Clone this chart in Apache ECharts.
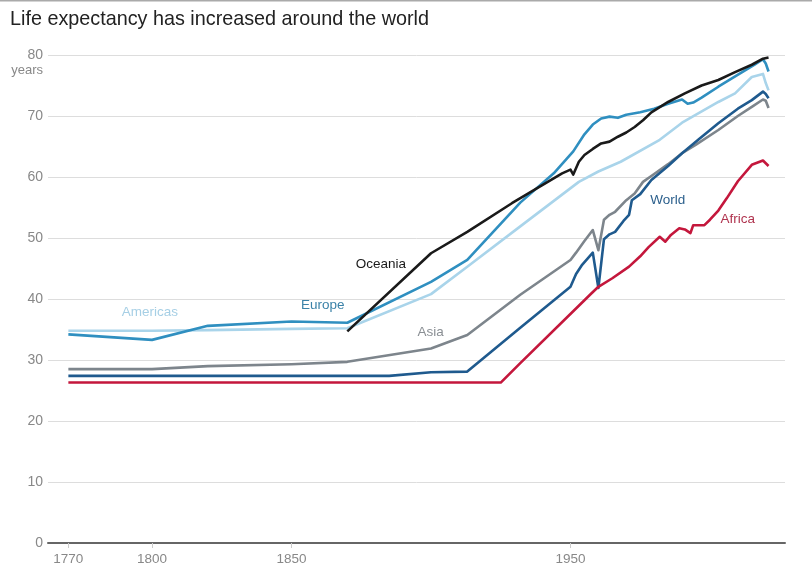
<!DOCTYPE html>
<html>
<head>
<meta charset="utf-8">
<script src="https://cdn.jsdelivr.net/npm/echarts@6/dist/echarts.min.js"></script>
<style>html,body{margin:0;padding:0;background:#fff;}#c{width:812px;height:576px;}</style>
</head>
<body>
<div id="c"></div>
<script>
// ---- data (year, life expectancy in years) ----
const americas = [[1770,34.8],[1800,34.8],[1820,34.9],[1850,35.1],[1870,35.2],[1900,40.8],[1913,45.3],[1932,51.9],[1953,59.2],[1960,60.9],[1968,62.5],[1982,66.1],[1990,68.9],[2003,72.3],[2009,73.7],[2015,76.4],[2019,76.9],[2020,75.4],[2021,74.2]];
const europe = [[1770,34.2],[1800,33.3],[1820,35.6],[1850,36.3],[1870,36.1],[1900,42.8],[1913,46.4],[1932,55.8],[1944,60.6],[1951,64.2],[1955,67.0],[1958,68.6],[1961,69.6],[1964,69.9],[1967,69.7],[1970,70.2],[1975,70.6],[1980,71.2],[1985,72.0],[1990,72.7],[1992,72.0],[1994,72.2],[1997,73.0],[2003,74.8],[2008,76.2],[2012,77.3],[2016,78.4],[2019,79.3],[2020,78.6],[2021,77.3]];
const oceania = [[1870,34.7],[1900,47.5],[1913,51.0],[1929,55.7],[1947,60.6],[1950,61.2],[1951,60.4],[1953,62.5],[1955,63.6],[1958,64.6],[1961,65.5],[1964,65.8],[1967,66.6],[1970,67.3],[1973,68.2],[1976,69.3],[1979,70.6],[1985,72.3],[1991,73.7],[1997,75.0],[2003,75.9],[2009,77.2],[2015,78.4],[2019,79.4],[2021,79.6]];
const asia = [[1770,28.5],[1800,28.5],[1820,29.0],[1850,29.3],[1870,29.7],[1900,31.9],[1913,34.1],[1932,40.7],[1950,46.4],[1952,47.6],[1955,49.5],[1958,51.3],[1960,48.0],[1962,53.0],[1964,53.8],[1966,54.3],[1970,56.2],[1973,57.3],[1976,59.2],[1980,60.5],[1985,62.1],[1990,63.9],[1995,65.3],[2003,67.7],[2010,70.0],[2015,71.5],[2019,72.7],[2020,72.5],[2021,71.3]];
const world = [[1770,27.4],[1885,27.4],[1900,28.0],[1913,28.1],[1932,35.3],[1950,42.0],[1952,44.1],[1954,45.5],[1958,47.6],[1960,41.8],[1962,49.8],[1964,50.6],[1966,51.0],[1969,52.8],[1971,53.8],[1972,56.2],[1975,57.2],[1979,59.5],[1985,61.8],[1990,63.9],[1996,66.2],[2003,68.8],[2010,71.2],[2015,72.6],[2019,74.0],[2020,73.6],[2021,72.9]];
const africa = [[1770,26.3],[1925,26.3],[1932,29.5],[1955,39.8],[1957,40.7],[1960,42.0],[1965,43.4],[1971,45.3],[1975,47.0],[1978,48.5],[1982,50.2],[1984,49.4],[1986,50.5],[1989,51.6],[1991,51.4],[1993,50.8],[1994,52.1],[1998,52.1],[2000,53.0],[2003,54.5],[2006,56.5],[2010,59.3],[2015,62.0],[2019,62.7],[2021,61.8]];

const xTickYears = [1770, 1800, 1850, 1950];
const seriesNames = ['Americas', 'Asia', 'World', 'Africa', 'Europe', 'Oceania'];
const seriesData = [americas, asia, world, africa, europe, oceania];
// label anchor (data space) for each series name
const labelAnchors = [[1799.2, 37.9], [1899.9, 34.6], [1984.9, 56.2], [2010.0, 53.1], [1861.2, 39.0], [1882.0, 45.7]];

const lineColors = ['#a9d4ea', '#7d858c', '#1f5a8e', '#c4173c', '#2f8fc0', '#1a1a1a'];
const labelColors = ['#a6cfe5', '#8a8f94', '#2b5f8c', '#b0344f', '#3b82a8', '#1a1a1a'];

const narrow = "'Liberation Sans Narrow', 'Liberation Sans', Arial, sans-serif";

const chart = echarts.init(document.getElementById('c'), null, {renderer: 'canvas'});

const series = seriesNames.map((name, i) => ({
  name: name,
  type: 'line',
  data: seriesData[i],
  showSymbol: false,
  symbol: 'none',
  lineStyle: {color: lineColors[i], width: 2.6, join: 'round'},
  itemStyle: {color: lineColors[i]},
  z: 2 + i,
  animation: false,
  markPoint: {
    symbol: 'circle',
    symbolSize: 0,
    animation: false,
    data: [{
      coord: labelAnchors[i],
      label: {
        show: true,
        position: 'inside',
        formatter: name,
        color: labelColors[i],
        fontFamily: narrow,
        fontSize: 13.5
      }
    }]
  }
}));

chart.setOption({
  animation: false,
  backgroundColor: '#fff',
  title: {
    text: 'Life expectancy has increased around the world',
    left: 5,
    top: 5,
    textStyle: {fontFamily: "'Liberation Sans', Arial, sans-serif", fontSize: 19.8, fontWeight: 'normal', color: '#222'}
  },
  graphic: [
    {type: 'rect', shape: {x: 0, y: 0, width: 812, height: 1.5}, style: {fill: '#aaa'}, silent: true},
    {type: 'text', x: 43, y: 70, style: {text: 'years', textAlign: 'right', textVerticalAlign: 'middle', font: "13px " + narrow, fill: '#888'}, silent: true}
  ],
  grid: {left: 48, right: 27, top: 55, bottom: 33, containLabel: false},
  xAxis: {
    type: 'value',
    min: 1762.7,
    max: 2026.9,
    splitLine: {show: false},
    axisLine: {show: true, lineStyle: {color: '#666', width: 2}},
    axisTick: {show: true, customValues: xTickYears, length: 5, lineStyle: {color: '#ccc'}},
    axisLabel: {show: true, customValues: xTickYears, color: '#888', fontFamily: narrow, fontSize: 13.5, margin: 9, formatter: v => String(v)}
  },
  yAxis: {
    type: 'value',
    min: 0,
    max: 80,
    interval: 10,
    axisLine: {show: false},
    axisTick: {show: false},
    splitLine: {show: true, lineStyle: {color: '#ddd', width: 1}},
    axisLabel: {color: '#888', fontFamily: narrow, fontSize: 14, margin: 5}
  },
  series: series
});
</script>
</body>
</html>
